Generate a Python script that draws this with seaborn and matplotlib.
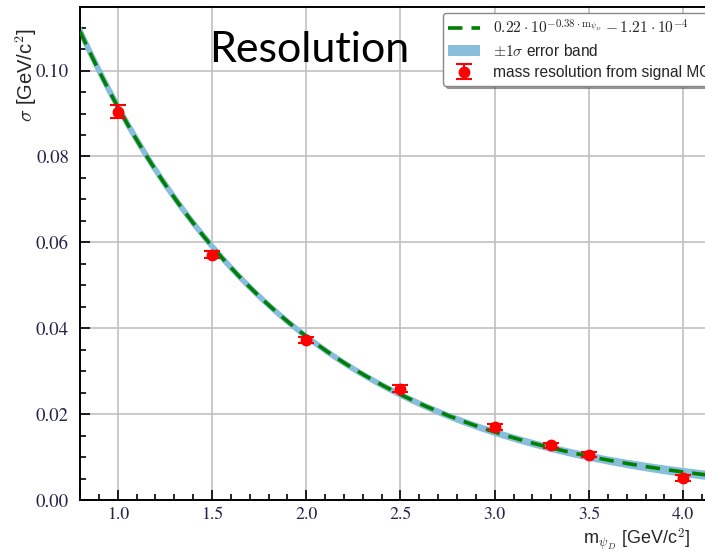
import numpy as np
import pandas as pd
import matplotlib
matplotlib.use("Agg")
import matplotlib.pyplot as plt
import seaborn as sns
from matplotlib.ticker import MultipleLocator

# Data
mass = [1.0, 1.5, 2.0, 2.5, 3.0, 3.3, 3.5, 4.0]
sigma = [0.0904, 0.0571, 0.0372, 0.0259, 0.0169, 0.0127, 0.0105, 0.0052]
sigma_err = [0.0015, 0.0008, 0.0007, 0.0008, 0.0007, 0.0006, 0.0006, 0.0007]

# Fit parameters quoted in the legend
fit_a = 0.22
fit_b = 0.38
fit_c = 1.21e-4
band_rel = 0.012      # relative half-width of the ±1σ band
band_floor = 0.0003

xticks = [1.0, 1.5, 2.0, 2.5, 3.0, 3.5, 4.0]
yticks = [0.00, 0.02, 0.04, 0.06, 0.08, 0.10]

sns.set_theme(style="ticks")
plt.rcParams['font.family'] = ['Liberation Sans', 'DejaVu Sans']
plt.rcParams['mathtext.fontset'] = 'cm'

W, H = 705, 553
fig = plt.figure(figsize=(W / 100, H / 100), dpi=100)
ax = fig.add_axes([80 / W, (H - 500) / H, (721 - 80) / W, (500 - 7) / H])

df = pd.DataFrame({"m": mass, "sigma": sigma, "err": sigma_err})

mm = np.linspace(0.8, 4.2, 400)
fit = fit_a * 10 ** (-fit_b * mm) - fit_c
half = np.sqrt((band_rel * fit) ** 2 + (0.00025 * (mm - 1.0)) ** 2) + band_floor
ax.fill_between(mm, fit - half, fit + half, color="#88bddb", lw=0,
                label=r"$\pm1\sigma$ error band", zorder=2)
sns.lineplot(x=mm, y=fit, ax=ax, color="green", lw=2.6, linestyle=(0, (4, 2.5)),
             label=r"$0.22\cdot10^{-0.38\cdot\mathrm{m}_{\psi_D}}-1.21\cdot10^{-4}$",
             zorder=3)
ax.errorbar(df["m"], df["sigma"], yerr=df["err"], fmt="o", color="red",
            ms=7.5, capsize=6, capthick=1.5, elinewidth=1.5, zorder=4,
            label="mass resolution from signal MC")

ax.set_xlim(0.8, 4.2)
ax.set_ylim(0.0, 0.1148)
ax.set_xticks(xticks)
ax.set_yticks(yticks)
ax.set_xticklabels([f"{v:.1f}" for v in xticks])
ax.set_yticklabels([f"{v:.2f}" for v in yticks])
ax.xaxis.set_minor_locator(MultipleLocator(0.1))
ax.yaxis.set_minor_locator(MultipleLocator(0.005))
ax.tick_params(which="both", direction="in", top=False, right=False,
               labelsize=13.5, colors="black", labelcolor="#23234a")
ax.tick_params(axis="y", which="major", pad=8)
ax.tick_params(axis="x", which="major", pad=5, labelsize=12.8)
ax.tick_params(which="major", length=7, width=1.2)
ax.tick_params(which="minor", length=4, width=1.2)
for lab in ax.get_xticklabels() + ax.get_yticklabels():
    lab.set_fontfamily('STIXGeneral')
ax.grid(True, which="major", color="#c0c0c0", lw=1.2)
for s in ax.spines.values():
    s.set_color("black")
    s.set_linewidth(1.4)

ax.set_xlabel(r"m$_{\psi_D}$ [GeV/c$^2$]", fontsize=13, ha="right")
ax.xaxis.set_label_coords((690 - 80) / 641, -0.054)
ax.set_ylabel(r"$\sigma$ [GeV/c$^2$]", fontsize=14.5, ha="right")
ax.yaxis.set_label_coords(-0.064, (500 - 28) / 493)

h, l = ax.get_legend_handles_labels()
order = [l.index(x) for x in [r"$0.22\cdot10^{-0.38\cdot\mathrm{m}_{\psi_D}}-1.21\cdot10^{-4}$",
                              r"$\pm1\sigma$ error band", "mass resolution from signal MC"]]
leg = ax.legend([h[i] for i in order], [l[i] for i in order], loc="upper left",
                bbox_to_anchor=((443 - 80) / 641, (500 - 13) / 493), borderaxespad=0,
                fontsize=11.2, frameon=True, fancybox=True,
                shadow=True, edgecolor="#888888", framealpha=1, handlelength=2.0,
                borderpad=0.35, labelspacing=0.4, handletextpad=0.85)

fig.text(209 / W, 1 - 50 / H, "Resolution", fontsize=31, family="Lato",
         va="center", ha="left", color="black", zorder=10)

fig.savefig("out.png", dpi=100)
